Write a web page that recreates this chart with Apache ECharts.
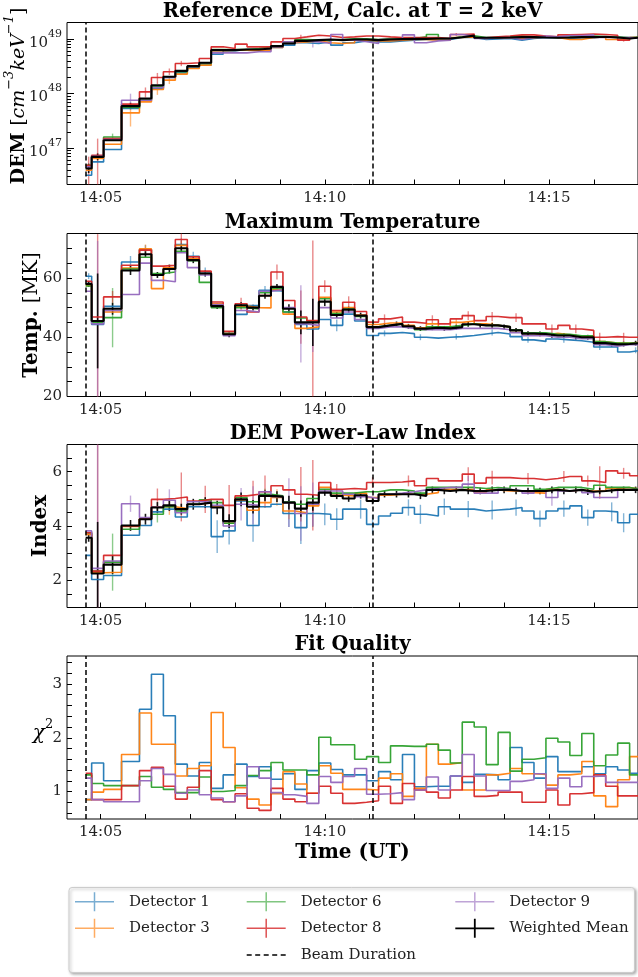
<!DOCTYPE html>
<html><head><meta charset="utf-8">
<script src="https://cdn.jsdelivr.net/npm/echarts@6/dist/echarts.min.js"></script>
<style>html,body{margin:0;padding:0;background:#fff}#c{width:638px;height:977px}</style>
</head><body><div id="c"></div>
<script>
// ---------------- DATA ----------------
const binEdges = ['14:04:40','14:04:48','14:05:04','14:05:28','14:05:52','14:06:08','14:06:24','14:06:40','14:06:56','14:07:12','14:07:28','14:07:44','14:08:00','14:08:16','14:08:32','14:08:48','14:09:04','14:09:20','14:09:36','14:09:52','14:10:08','14:10:24','14:10:40','14:10:56','14:11:12','14:11:28','14:11:44','14:12:00','14:12:16','14:12:32','14:12:48','14:13:04','14:13:20','14:13:36','14:13:52','14:14:08','14:14:24','14:14:40','14:14:56','14:15:12','14:15:28','14:15:44','14:16:00','14:16:16','14:16:32','14:16:48','14:17:04'];
const beamTimes = ['14:04:40','14:11:04'];
const xMajorTicks = ['14:05','14:10','14:15'];
const xMinorTicks = ['14:06','14:07','14:08','14:09','14:11','14:12','14:13','14:14','14:16'];
const demMajorTicks = [1e47,1e48,1e49];
const demMinorTicks = [3e46,4e46,5e46,6e46,7e46,8e46,9e46,2e47,3e47,4e47,5e47,6e47,7e47,8e47,9e47,2e48,3e48,4e48,5e48,6e48,7e48,8e48,9e48,2e49];
const tempTicks = [20,25,30,35,40,45,50,55,60,65,70,75];
const tempLabels = [20,40,60];
const indexTicks = [1,1.5,2,2.5,3,3.5,4,4.5,5,5.5,6,6.5,7];
const indexLabels = [2,4,6];
const chiTicks = [0.6,0.8,1.0,1.2,1.4,1.6,1.8,2.0,2.2,2.4,2.6,2.8,3.0,3.2,3.4];
const chiLabels = [1,2,3];

// DEM at 2 keV [cm^-3 keV^-1]
const DEM_D1 = [3.20e46,5.61e46,9.46e46,5.35e47,7.60e47,1.24e48,1.98e48,2.41e48,3.02e48,3.34e48,5.31e48,6.11e48,6.46e48,6.46e48,6.46e48,7.03e48,7.76e48,8.57e48,8.32e48,8.93e48,7.76e48,8.57e48,9.31e48,8.93e48,8.93e48,9.31e48,9.59e48,9.86e48,9.86e48,9.86e48,1.07e49,1.07e49,9.86e48,1.01e49,1.03e49,9.59e48,1.03e49,1.07e49,1.06e49,1.03e49,1.06e49,1.07e49,1.10e49,1.07e49,1.03e49,1.06e49];
const DEM_D3 = [3.95e46,6.46e46,1.18e47,4.45e47,7.08e47,1.19e48,1.77e48,2.28e48,2.90e48,3.34e48,6.11e48,6.28e48,6.28e48,6.11e48,6.28e48,7.03e48,8.57e48,8.93e48,9.31e48,8.57e48,8.32e48,8.57e48,9.59e48,9.31e48,9.31e48,9.59e48,9.86e48,9.86e48,9.59e48,9.59e48,1.07e49,1.10e49,1.03e49,1.06e49,1.07e49,1.03e49,1.06e49,1.10e49,1.07e49,9.86e48,9.86e48,1.07e49,1.10e49,9.86e48,1.03e49,1.07e49];
const DEM_D6 = [4.88e46,7.13e46,1.61e47,5.58e47,7.82e47,1.37e48,2.04e48,2.52e48,3.11e48,3.58e48,6.46e48,6.46e48,6.46e48,6.74e48,7.23e48,7.45e48,8.93e48,9.86e48,9.59e48,9.59e48,9.86e48,1.01e49,1.01e49,9.86e48,1.03e49,1.01e49,1.03e49,1.10e49,1.22e49,1.03e49,1.10e49,1.15e49,1.07e49,1.07e49,1.10e49,1.14e49,1.10e49,1.10e49,1.07e49,1.10e49,1.10e49,1.14e49,1.10e49,1.10e49,1.07e49,1.10e49];
const DEM_D8 = [4.88e46,7.45e46,1.50e47,6.42e47,1.08e48,1.98e48,2.52e48,3.58e48,3.68e48,4.42e48,7.23e48,6.74e48,8.09e48,7.23e48,7.23e48,8.93e48,1.03e49,1.10e49,1.18e49,1.14e49,1.07e49,1.10e49,1.14e49,1.14e49,1.10e49,1.07e49,1.07e49,1.07e49,1.07e49,1.03e49,1.22e49,1.24e49,1.06e49,1.10e49,1.14e49,1.20e49,1.20e49,1.14e49,1.10e49,1.20e49,1.22e49,1.24e49,1.22e49,1.18e49,9.59e48,1.07e49];
const DEM_D9 = [4.54e46,7.13e46,1.44e47,7.60e47,7.60e47,1.30e48,1.98e48,2.62e48,3.11e48,3.68e48,5.61e48,5.61e48,5.61e48,5.86e48,5.86e48,7.23e48,8.93e48,9.31e48,8.93e48,8.32e48,1.22e49,9.59e48,8.93e48,8.32e48,9.86e48,9.86e48,1.20e49,8.57e48,9.31e48,9.59e48,1.22e49,1.14e49,1.03e49,1.06e49,1.07e49,9.86e48,1.07e49,1.14e49,1.10e49,1.16e49,1.16e49,1.20e49,1.07e49,1.07e49,1.07e49,1.03e49];
const DEM_WM = [4.24e46,6.93e46,1.40e47,5.90e47,8.15e47,1.43e48,2.04e48,2.62e48,3.20e48,3.68e48,6.28e48,6.28e48,6.46e48,6.46e48,6.74e48,7.45e48,8.32e48,9.31e48,9.59e48,9.86e48,9.59e48,9.86e48,9.86e48,9.59e48,9.86e48,1.00e49,1.01e49,1.01e49,1.03e49,1.03e49,1.08e49,1.16e49,1.06e49,1.06e49,1.07e49,1.09e49,1.09e49,1.07e49,1.06e49,1.07e49,1.09e49,1.09e49,1.11e49,1.07e49,1.03e49,1.07e49];
// DEM error bars: [bin, low, high]
const DEM_D3_err = [[3,2.5e47,6.6e47],[5,9.5e47,1.45e48],[6,1.5e48,2.0e48]];
const DEM_D6_err = [[2,1.4e47,1.85e47]];
const DEM_D8_err = [[0,1.5e46,7.0e46],[1,1.0e46,1.5e47],[4,8.5e47,1.3e48],[5,1.5e48,2.4e48],[6,2.2e48,2.9e48],[7,3.2e48,4.0e48],[17,1.0e49,1.2e49],[30,1.15e49,1.3e49],[44,9.0e48,1.02e49]];
const DEM_D9_err = [[3,5.7e47,1.0e48],[18,7.0e48,1.0e49]];
const DEM_WM_err = [[0,3.5e46,5.2e46],[1,6.0e46,8.0e46],[3,5.2e47,6.8e47]];

// Maximum temperature [MK]
const T_D1 = [60.6,44.3,50.4,65.4,69.6,61.0,63.2,71.3,67.3,62.0,51.0,41.4,47.7,50.7,55.8,55.6,48.5,44.3,42.8,46.0,44.0,47.8,45.5,40.6,41.3,41.6,41.2,40.0,39.7,40.0,40.2,40.6,41.1,41.6,41.1,40.2,39.1,38.6,39.4,39.1,38.8,38.3,36.7,36.7,35.0,35.6];
const T_D3 = [57.5,45.5,48.5,63.3,69.8,56.4,63.5,71.0,66.5,61.5,51.3,41.3,50.5,50.0,49.9,56.0,47.8,43.0,43.5,53.5,48.5,50.0,47.5,44.3,44.8,44.8,44.0,43.2,44.5,43.0,45.0,45.5,44.5,44.0,43.5,42.3,41.3,40.8,41.3,40.8,40.2,40.3,38.5,38.0,38.0,38.3];
const T_D6 = [57.3,45.0,46.6,63.0,67.0,61.5,62.0,69.0,65.8,58.5,50.0,41.0,50.0,49.5,55.0,56.5,48.5,46.5,45.5,53.0,48.0,49.5,47.0,43.5,44.0,44.5,43.5,42.5,43.5,43.5,44.0,44.5,44.0,44.0,43.5,42.5,41.5,41.5,41.0,41.0,40.5,40.5,38.5,38.0,38.0,38.0];
const T_D8 = [58.9,46.8,53.6,64.3,69.4,64.0,64.3,73.0,67.1,62.3,51.9,42.0,51.3,48.5,54.1,62.0,52.4,46.8,45.6,57.2,49.0,51.8,48.7,45.1,46.2,46.8,45.1,44.7,45.9,44.5,46.2,47.3,45.6,47.0,46.6,46.6,44.5,44.5,42.8,44.0,42.8,42.3,40.0,40.2,40.0,40.0];
const T_D9 = [55.5,44.5,49.0,54.4,65.0,59.2,58.7,68.5,63.5,61.0,51.0,40.5,49.0,48.5,55.5,56.0,50.0,44.5,44.0,50.0,46.5,48.5,46.0,43.0,43.5,43.5,43.0,42.5,42.5,42.5,43.0,43.0,43.0,43.0,42.5,41.5,40.5,40.5,40.0,40.0,39.5,39.5,37.5,37.0,37.5,37.5];
const T_WM = [58.0,45.5,49.6,62.5,68.0,61.0,63.0,70.0,66.0,61.5,50.5,41.0,50.8,50.0,54.0,57.0,49.6,45.0,45.0,52.0,47.5,49.3,47.3,43.4,44.0,44.5,43.7,42.9,43.2,43.0,43.4,44.4,44.0,44.0,43.5,42.3,41.2,41.1,40.6,40.6,40.0,40.0,38.0,37.6,37.7,38.0];
const T_WM_err = [1,16,2,1.5,1,1,1.5,1.5,1,1,1,1,1,1,1,1,1.5,4,8,1.5,1,1,1,0.8,0.8,0.8,0.8,0.8,0.8,0.8,0.8,0.8,0.8,0.8,0.8,0.8,0.8,0.8,0.8,0.8,0.8,0.8,0.8,0.8,0.8,0.8];
// [bin, half-width]
const T_D1_err = [[0,1],[3,2],[4,1.5],[7,2],[8,1.5],[9,1.5],[14,1.5],[20,2],[24,1],[27,1],[30,1],[33,1],[36,1],[39,1],[42,1],[45,1]];
const T_D3_err = [[4,1.5],[7,1.5],[30,1.2],[33,1.2]];
const T_D6_err = [[2,10],[31,1]];
const T_D8_err = [[1,28],[2,2],[7,2],[12,2],[15,2.5],[17,9],[18,27],[19,2],[21,2],[24,1.5],[28,1.5],[31,1.5],[33,1.5],[35,1.5],[38,1.5],[40,1.5],[42,1.5],[44,1.5]];
const T_D9_err = [[1,28],[17,13],[18,9]];

// DEM power-law index
const I_D1 = [2.92,2.03,2.18,3.66,4.02,4.52,4.62,4.33,4.71,4.71,3.61,3.82,4.92,4.02,4.71,4.80,4.46,3.94,4.46,4.43,4.25,4.62,4.62,4.06,4.37,4.47,4.68,4.43,4.37,4.71,4.62,4.62,4.55,4.59,4.62,4.68,4.55,4.27,4.55,4.64,4.74,4.31,4.55,4.52,4.12,4.43];
const I_D3 = [3.69,2.28,2.30,3.98,4.25,4.71,4.71,4.64,4.80,4.86,4.71,4.10,4.96,4.58,4.86,5.05,4.55,4.49,4.74,5.42,5.13,5.11,5.21,5.05,5.13,5.17,5.17,5.17,5.23,5.35,5.33,5.35,5.23,5.33,5.29,5.29,5.23,5.21,5.35,5.29,5.33,5.29,5.29,5.38,5.42,5.35];
const I_D6 = [3.75,2.34,2.67,3.88,4.25,4.43,4.71,4.55,4.80,4.96,4.86,4.10,5.05,4.89,5.17,5.11,4.89,4.80,5.01,5.35,5.21,5.21,5.26,5.26,5.33,5.33,5.29,5.21,5.42,5.42,5.42,5.42,5.38,5.42,5.38,5.48,5.48,5.35,5.42,5.42,5.42,5.35,5.50,5.42,5.42,5.35];
const I_D8 = [3.75,2.34,2.92,4.00,4.27,4.98,5.01,5.07,4.92,4.98,4.98,4.76,5.11,5.17,5.26,5.48,5.33,5.17,5.13,5.60,5.35,5.38,5.35,5.60,5.60,5.62,5.66,5.48,5.75,5.66,5.66,5.91,5.58,5.78,5.78,5.75,5.75,5.70,5.75,5.82,5.82,5.66,5.60,6.03,5.94,5.85];
const I_D9 = [3.82,2.44,2.71,4.82,4.31,4.70,4.95,4.49,4.89,4.89,4.76,4.00,4.80,4.76,5.26,5.08,4.86,4.46,4.80,5.29,5.29,5.17,5.08,5.01,5.17,5.21,5.26,5.33,5.38,5.42,5.42,5.54,5.21,5.21,5.35,5.29,5.21,5.29,5.05,5.29,5.33,5.23,5.05,5.05,5.33,5.35];
const I_WM = [3.57,2.25,2.58,4.02,4.25,4.68,4.76,4.62,4.80,4.86,4.68,4.18,4.98,4.71,5.11,5.08,4.86,4.64,4.86,5.23,5.11,5.01,5.13,4.92,5.17,5.17,5.17,5.11,5.33,5.29,5.33,5.29,5.29,5.33,5.33,5.29,5.29,5.29,5.33,5.29,5.33,5.26,5.29,5.33,5.33,5.33];
const I_WM_err = [0.15,1.9,0.35,0.2,0.2,0.2,0.2,0.2,0.2,0.2,0.25,0.25,0.25,0.25,0.2,0.2,0.25,0.3,0.3,0.12,0.12,0.12,0.12,0.12,0.12,0.12,0.12,0.12,0.12,0.12,0.12,0.12,0.12,0.12,0.12,0.12,0.12,0.12,0.12,0.12,0.12,0.12,0.12,0.12,0.12,0.12];
const I_D1_err = [[10,0.6],[11,0.5],[13,0.6],[16,0.5],[17,0.6],[18,0.5],[19,0.4],[20,0.4],[22,0.35],[23,0.35],[26,0.3],[27,0.35],[29,0.3],[31,0.3],[33,0.35],[35,0.3],[37,0.3],[39,0.3],[41,0.3],[43,0.35],[44,0.35]];
const I_D3_err = [[6,0.3],[15,0.3],[16,0.3],[18,0.3]];
const I_D6_err = [[2,1.05],[5,0.3],[14,0.2]];
const I_D8_err = [[1,4.8],[5,0.4],[7,0.9],[9,0.5],[11,0.75],[13,0.5],[14,0.6],[17,1.0],[18,1.3],[20,0.2],[23,0.2],[26,0.2],[31,0.25],[33,0.25],[36,0.2],[39,0.2],[41,0.2],[42,0.6],[44,0.2]];
const I_D9_err = [[1,4.8],[3,0.3],[6,0.4],[12,0.6],[13,0.7],[16,0.9],[17,1.0],[18,0.8],[31,0.3],[38,0.3]];

// Fit quality (reduced chi^2)
const C_D1 = [0.85,1.53,1.20,1.56,2.53,3.18,2.41,1.51,1.29,1.54,1.06,1.31,1.51,1.28,1.46,1.23,1.33,1.04,1.39,1.53,1.41,1.31,1.31,1.20,1.37,1.22,1.69,1.09,1.10,1.10,1.29,1.17,1.32,1.31,1.22,1.82,1.54,1.25,1.65,1.37,1.37,1.46,1.33,1.46,1.40,1.34];
const C_D3 = [0.85,0.99,1.04,1.69,2.46,1.88,1.88,1.29,1.43,1.48,2.47,1.82,1.07,0.86,0.75,0.96,1.37,1.14,0.97,1.48,1.34,1.04,1.04,1.03,1.25,1.33,0.91,1.06,1.88,1.51,1.54,1.03,1.03,1.31,1.34,1.43,1.33,1.32,1.12,1.31,1.33,1.56,0.92,0.72,1.22,1.65];
const C_D6 = [1.31,1.15,1.11,1.11,1.28,1.08,1.04,0.98,0.98,1.27,1.00,1.02,1.11,1.30,1.39,1.54,1.40,1.40,1.31,2.01,1.87,1.87,1.60,1.65,1.54,1.85,1.84,1.84,1.88,1.77,1.53,2.29,2.20,1.50,2.10,1.38,1.60,1.63,1.99,1.92,1.67,2.08,1.48,1.68,1.90,1.31];
const C_D8 = [1.34,0.85,0.85,1.11,1.39,1.45,1.10,0.86,1.08,1.39,0.85,0.81,0.96,0.69,0.65,1.06,0.86,0.81,0.97,1.10,0.97,0.78,0.80,0.83,1.10,0.78,1.15,1.03,0.99,0.88,1.03,1.28,0.91,0.93,0.99,0.99,0.80,0.80,1.03,0.75,0.96,0.98,1.31,1.10,0.92,0.92];
const C_D9 = [1.25,0.85,0.81,0.81,1.20,1.43,1.32,0.97,1.03,0.94,0.88,0.81,0.92,1.46,1.25,0.98,0.94,0.91,0.78,1.28,1.17,1.28,1.43,0.95,0.96,0.98,0.85,1.03,1.27,1.03,1.29,1.69,1.29,1.02,1.02,1.19,1.22,1.33,1.06,1.25,1.09,1.28,1.29,1.17,1.17,1.17];

// ---------------- BUILD ----------------
const F = 'DejaVu Serif';
const toMin = s => { const p = s.split(':').map(Number); return (p[0]-14)*60 + p[1] + (p[2]||0)/60; };
const edges = binEdges.map(toMin);
const centers = edges.slice(0,-1).map((e,i)=> (e+edges[i+1])/2);
const stepData = vals => { const d = vals.map((v,i)=>[edges[i], v]); d.push([edges[vals.length], vals[vals.length-1]]); return d; };

const dets = [
  {name:'Detector 1', color:'#1f77b4', key:'D1'},
  {name:'Detector 3', color:'#ff7f0e', key:'D3'},
  {name:'Detector 6', color:'#2ca02c', key:'D6'},
  {name:'Detector 8', color:'#d62728', key:'D8'},
  {name:'Detector 9', color:'#9467bd', key:'D9'}
];
const DATA = {
  DEM:{D1:DEM_D1,D3:DEM_D3,D6:DEM_D6,D8:DEM_D8,D9:DEM_D9,WM:DEM_WM},
  T:{D1:T_D1,D3:T_D3,D6:T_D6,D8:T_D8,D9:T_D9,WM:T_WM},
  I:{D1:I_D1,D3:I_D3,D6:I_D6,D8:I_D8,D9:I_D9,WM:I_WM},
  C:{D1:C_D1,D3:C_D3,D6:C_D6,D8:C_D8,D9:C_D9}
};
const ERR = {
  DEM:{D3:DEM_D3_err,D6:DEM_D6_err,D8:DEM_D8_err,D9:DEM_D9_err,WM:DEM_WM_err},
  T:{D1:T_D1_err,D3:T_D3_err,D6:T_D6_err,D8:T_D8_err,D9:T_D9_err,WM:T_WM_err},
  I:{D1:I_D1_err,D3:I_D3_err,D6:I_D6_err,D8:I_D8_err,D9:I_D9_err,WM:I_WM_err}
};
const panelKeys = ['DEM','T','I','C'];

function errItems(panel, key){
  const e = ERR[panel] && ERR[panel][key]; if(!e) return null;
  const vals = DATA[panel][key];
  if (panel === 'DEM') return e.map(r => [centers[r[0]], r[1], r[2]]);
  if (typeof e[0] === 'number') return e.map((h,i)=>[centers[i], vals[i]-h, vals[i]+h]);
  return e.map(r => [centers[r[0]], vals[r[0]]-r[1], vals[r[0]]+r[1]]);
}
function errSeries(name, color, g, items, opacity, width){
  return {type:'custom', name, xAxisIndex:g, yAxisIndex:g, data:items, silent:true, z:3,
    renderItem:(params, api)=>{
      const x = api.value(0), lo = api.value(1), hi = api.value(2);
      const p1 = api.coord([x, lo]), p2 = api.coord([x, hi]);
      const cs = params.coordSys;
      let a = Math.min(p1[1],p2[1]), b = Math.max(p1[1],p2[1]);
      if (!isFinite(a)) a = cs.y; if (!isFinite(b)) b = cs.y+cs.height;
      a = Math.max(cs.y, a); b = Math.min(cs.y+cs.height, b);
      return {type:'line', shape:{x1:p1[0], y1:a, x2:p1[0], y2:b}, style:{stroke:color, lineWidth:width, opacity}};
    }};
}

const series = [];
panelKeys.forEach((pk, g) => {
  dets.forEach(d => {
    const it = errItems(pk, d.key);
    if (it) series.push(errSeries(d.name, d.color, g, it, 0.55, 1.4));
    series.push({type:'line', name:d.name, xAxisIndex:g, yAxisIndex:g, data:stepData(DATA[pk][d.key]), step:'end',
      showSymbol:false, symbol:'none', silent:true, z:3,
      lineStyle:{color:d.color, width:1.6, opacity:0.95}, itemStyle:{color:d.color}});
  });
  if (DATA[pk].WM) {
    const it = errItems(pk, 'WM');
    if (it) series.push(errSeries('Weighted Mean', '#000', g, it, 0.9, 1.6));
    series.push({type:'line', name:'Weighted Mean', xAxisIndex:g, yAxisIndex:g, data:stepData(DATA[pk].WM), step:'end',
      showSymbol:false, symbol:'none', silent:true, z:4,
      lineStyle:{color:'#000', width:2.1}, itemStyle:{color:'#000'}});
  }
  series.push({type:'line', name:'Beam Duration', xAxisIndex:g, yAxisIndex:g, data:[], silent:true, itemStyle:{color:'#000'},
    markLine:{silent:true, symbol:['none','none'], label:{show:false}, animation:false,
      lineStyle:{color:'#000', type:[5,3], width:1.5}, data: beamTimes.map(t=>({xAxis: toMin(t)}))}});
});

const gridTops = [22.5, 233.5, 444.5, 656];
const gridHeights = [162, 163, 163, 163];
const grids = gridTops.map((t,i)=>({left:67, top:t, width:572, height:gridHeights[i], show:true, borderColor:'#000', borderWidth:1, backgroundColor:'transparent'}));

const xTickVals = xMajorTicks.concat(xMinorTicks).map(toMin);
const xAxes = grids.map((g,i)=>({type:'value', gridIndex:i, min:4.25, max:16.987,
  axisLine:{show:false, onZero:false}, splitLine:{show:false},
  axisTick:{show:true, inside:true, length:5, customValues:xTickVals, lineStyle:{color:'#000', width:1}},
  axisLabel:{customValues:xMajorTicks.map(toMin), fontFamily:F, fontSize:15, color:'#222', margin:6,
    formatter: v => '14:' + String(Math.round(v)).padStart(2,'0')}}));

const yCommon = {axisLine:{show:false, onZero:false}, splitLine:{show:false}};
const yAxes = [
  Object.assign({type:'log', gridIndex:0, min:2.16e46, max:2.02e49, position:'left', offset:0,
    axisTick:{inside:true, length:7, customValues:demMajorTicks, lineStyle:{color:'#000'}},
    axisLabel:{customValues:demMajorTicks, margin:5,
      formatter: v => '{a|10}{e|' + Math.round(Math.log10(v)) + '}',
      rich:{a:{fontFamily:F, fontSize:15, color:'#222', lineHeight:22, verticalAlign:'bottom'},
            e:{fontFamily:F, fontSize:11, color:'#222', lineHeight:13, verticalAlign:'top'}}}}, yCommon),
  Object.assign({type:'value', gridIndex:1, min:20, max:75,
    axisTick:{inside:true, length:5, customValues:tempTicks, lineStyle:{color:'#000'}},
    axisLabel:{customValues:tempLabels, fontFamily:F, fontSize:15, color:'#222', margin:5}}, yCommon),
  Object.assign({type:'value', gridIndex:2, min:1, max:7,
    axisTick:{inside:true, length:5, customValues:indexTicks, lineStyle:{color:'#000'}},
    axisLabel:{customValues:indexLabels, fontFamily:F, fontSize:15, color:'#222', margin:5}}, yCommon),
  Object.assign({type:'value', gridIndex:3, min:0.49, max:3.52,
    axisTick:{inside:true, length:5, customValues:chiTicks, lineStyle:{color:'#000'}},
    axisLabel:{customValues:chiLabels, fontFamily:F, fontSize:15, color:'#222', margin:5}}, yCommon),
  Object.assign({type:'log', gridIndex:0, min:2.16e46, max:2.02e49, position:'left', offset:0,
    axisTick:{inside:true, length:4, customValues:demMinorTicks, lineStyle:{color:'#000'}},
    axisLabel:{show:false}}, yCommon)
];

// legend icons
const tiny = 'M0,0h0.05v0.05h-0.05z M48.95,18.95h0.05v0.05h-0.05z';
const crossIcon = 'path://M0,8.75h39v1.5h-39z M18.75,0h1.5v19h-1.5z ' + tiny;
const crossIconBold = 'path://M0,8.6h39v1.8h-39z M18.6,0h1.8v19h-1.8z ' + tiny;
const dashIcon = 'path://M0,8.75h5v1.5h-5z M8.5,8.75h5v1.5h-5z M17,8.75h5v1.5h-5z M25.5,8.75h5v1.5h-5z M34,8.75h5v1.5h-5z ' + tiny;
const legItem = (name, color, op, icon) => ({name, icon, itemStyle:{color, opacity:op}});
const legBase = {orient:'vertical', itemWidth:49, itemHeight:19, itemGap:7.6, selectedMode:false,
  textStyle:{fontFamily:F, fontSize:15, color:'#222'}, padding:0};
const legends = [
  Object.assign({left:75, top:892.2, data:[legItem('Detector 1','#1f77b4',0.6,crossIcon), legItem('Detector 3','#ff7f0e',0.65,crossIcon)]}, legBase),
  Object.assign({left:246.7, top:892.2, data:[legItem('Detector 6','#2ca02c',0.6,crossIcon), legItem('Detector 8','#d62728',0.8,crossIcon), legItem('Beam Duration','#000',1,dashIcon)]}, legBase),
  Object.assign({left:455.3, top:892.2, data:[legItem('Detector 9','#9467bd',0.6,crossIcon), legItem('Weighted Mean','#000',1,crossIconBold)]}, legBase)
];

const txt = (x, y, text, size, weight, rot, extra) => ({type:'text', x, y, rotation: rot||0, z:10, silent:true,
  style:Object.assign({text, fontFamily:F, fontSize:size, fontWeight:weight||'normal', fill:'#000', align:'center', verticalAlign:'middle'}, extra||{})});
const YS = 20, DS = 19;
const graphics = [
  {type:'rect', z:0, silent:true, shape:{x:69, y:887.5, width:565.5, height:85, r:3},
    style:{fill:'#fff', stroke:'#cccccc', lineWidth:1, shadowBlur:3, shadowOffsetX:1.5, shadowOffsetY:1.5, shadowColor:'rgba(0,0,0,0.3)'}},
  txt(352.5, 11.5, 'Reference DEM, Calc. at T = 2 keV', 19.5, 'bold'),
  txt(352.5, 222.5, 'Maximum Temperature', 19.5, 'bold'),
  txt(352.5, 434, 'DEM Power-Law Index', 19.5, 'bold'),
  txt(352.5, 645, 'Fit Quality', 19.5, 'bold'),
  txt(352.5, 853, 'Time (UT)', 20, 'bold'),
  txt(16, 96, '{b|DEM }{r|[}{i|cm}{s|−3}{i|keV}{s|−1}{r|]}', DS, 'normal', Math.PI/2, {rich:{
    b:{fontFamily:F, fontSize:DS, fontWeight:'bold', lineHeight:26, verticalAlign:'bottom'},
    r:{fontFamily:F, fontSize:DS, lineHeight:26, verticalAlign:'bottom'},
    i:{fontFamily:F, fontSize:DS, fontStyle:'italic', lineHeight:26, verticalAlign:'bottom'},
    s:{fontFamily:F, fontSize:13, fontStyle:'italic', lineHeight:14, verticalAlign:'top'}}}),
  txt(32, 315, '{b|Temp. }{r|[MK]}', YS, 'normal', Math.PI/2, {rich:{
    b:{fontFamily:F, fontSize:YS, fontWeight:'bold'}, r:{fontFamily:F, fontSize:YS}}}),
  txt(41, 526, 'Index', YS, 'bold', Math.PI/2),
  txt(43, 731, '{i|χ}{s|2}', YS, 'normal', 0, {rich:{
    i:{fontFamily:F, fontSize:YS, fontStyle:'italic', lineHeight:26, verticalAlign:'bottom'},
    s:{fontFamily:F, fontSize:13, lineHeight:14, verticalAlign:'top'}}})
];

const chart = echarts.init(document.getElementById('c'), null, {renderer:'canvas'});
chart.setOption({
  animation:false, backgroundColor:'#fff',
  grid:grids, xAxis:xAxes, yAxis:yAxes, series, legend:legends, graphic:graphics
});
</script></body></html>
